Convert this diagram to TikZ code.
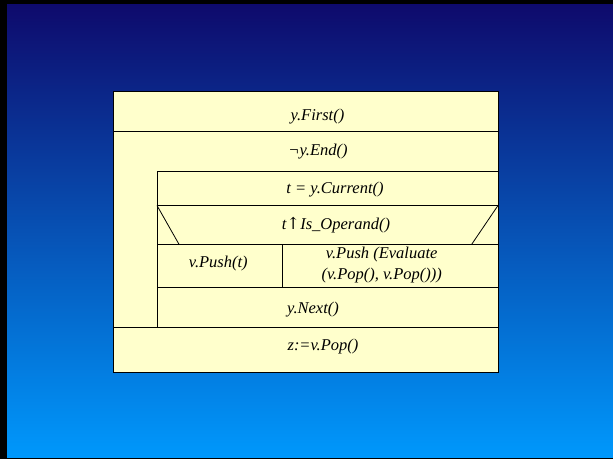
\documentclass[tikz,border=0pt]{standalone}
\usepackage{fontspec}
\setmainfont{Liberation Serif}
\newfontfamily\arrowfont{DejaVu Serif}
\begin{document}
\begin{tikzpicture}[x=1pt,y=-1pt,
  ln/.style={draw=black,line width=0.8pt},
  lbl/.style={font=\fontsize{16.5}{20.5}\selectfont\itshape,inner sep=0pt,align=center}]
\useasboundingbox (0,0) rectangle (613,459);
\fill[black] (0,0) rectangle (613,459);
\shade[top color={rgb,255:red,14;green,10;blue,108},bottom color={rgb,255:red,0;green,152;blue,252}] (7,4) rectangle (613,457);
\definecolor{cream}{RGB}{255,255,204}
% outer box
\filldraw[fill=cream,ln] (113,91) rectangle (498,372);
\draw[ln] (113,131.7) -- (498,131.7);
\draw[ln] (157,327) |- (498,171.7);
\draw[ln] (157,205.5) -- (498,205.5);
\draw[ln] (157,244.3) -- (498,244.3);
\draw[ln] (157,205.5) -- (179,244.3);
\draw[ln] (498,205.5) -- (471.7,244.3);
\draw[ln] (282.7,244.3) -- (282.7,287.7);
\draw[ln] (157,287.7) -- (498,287.7);
\draw[ln] (113,327) -- (498,327);
% texts
\node[lbl] (first) at (317.5,116.5) {y.First()};
\node[lbl] (end) at (318,151.5) {¬y.End()};
\node[lbl] (cur) at (335,190) {t = y.Current()};
\node[lbl] (op) at (336,225) {t{\upshape\arrowfont ↑}Is\_Operand()};
\node[lbl] (push) at (218.3,263.5) {v.Push(t)};
\node[lbl] (eval) at (381.7,265) {v.Push (Evaluate\\(v.Pop(), v.Pop()))};
\node[lbl] (next) at (313,310) {y.Next()};
\node[lbl] (pop) at (323,347) {z:=v.Pop()};
\end{tikzpicture}
\end{document}
